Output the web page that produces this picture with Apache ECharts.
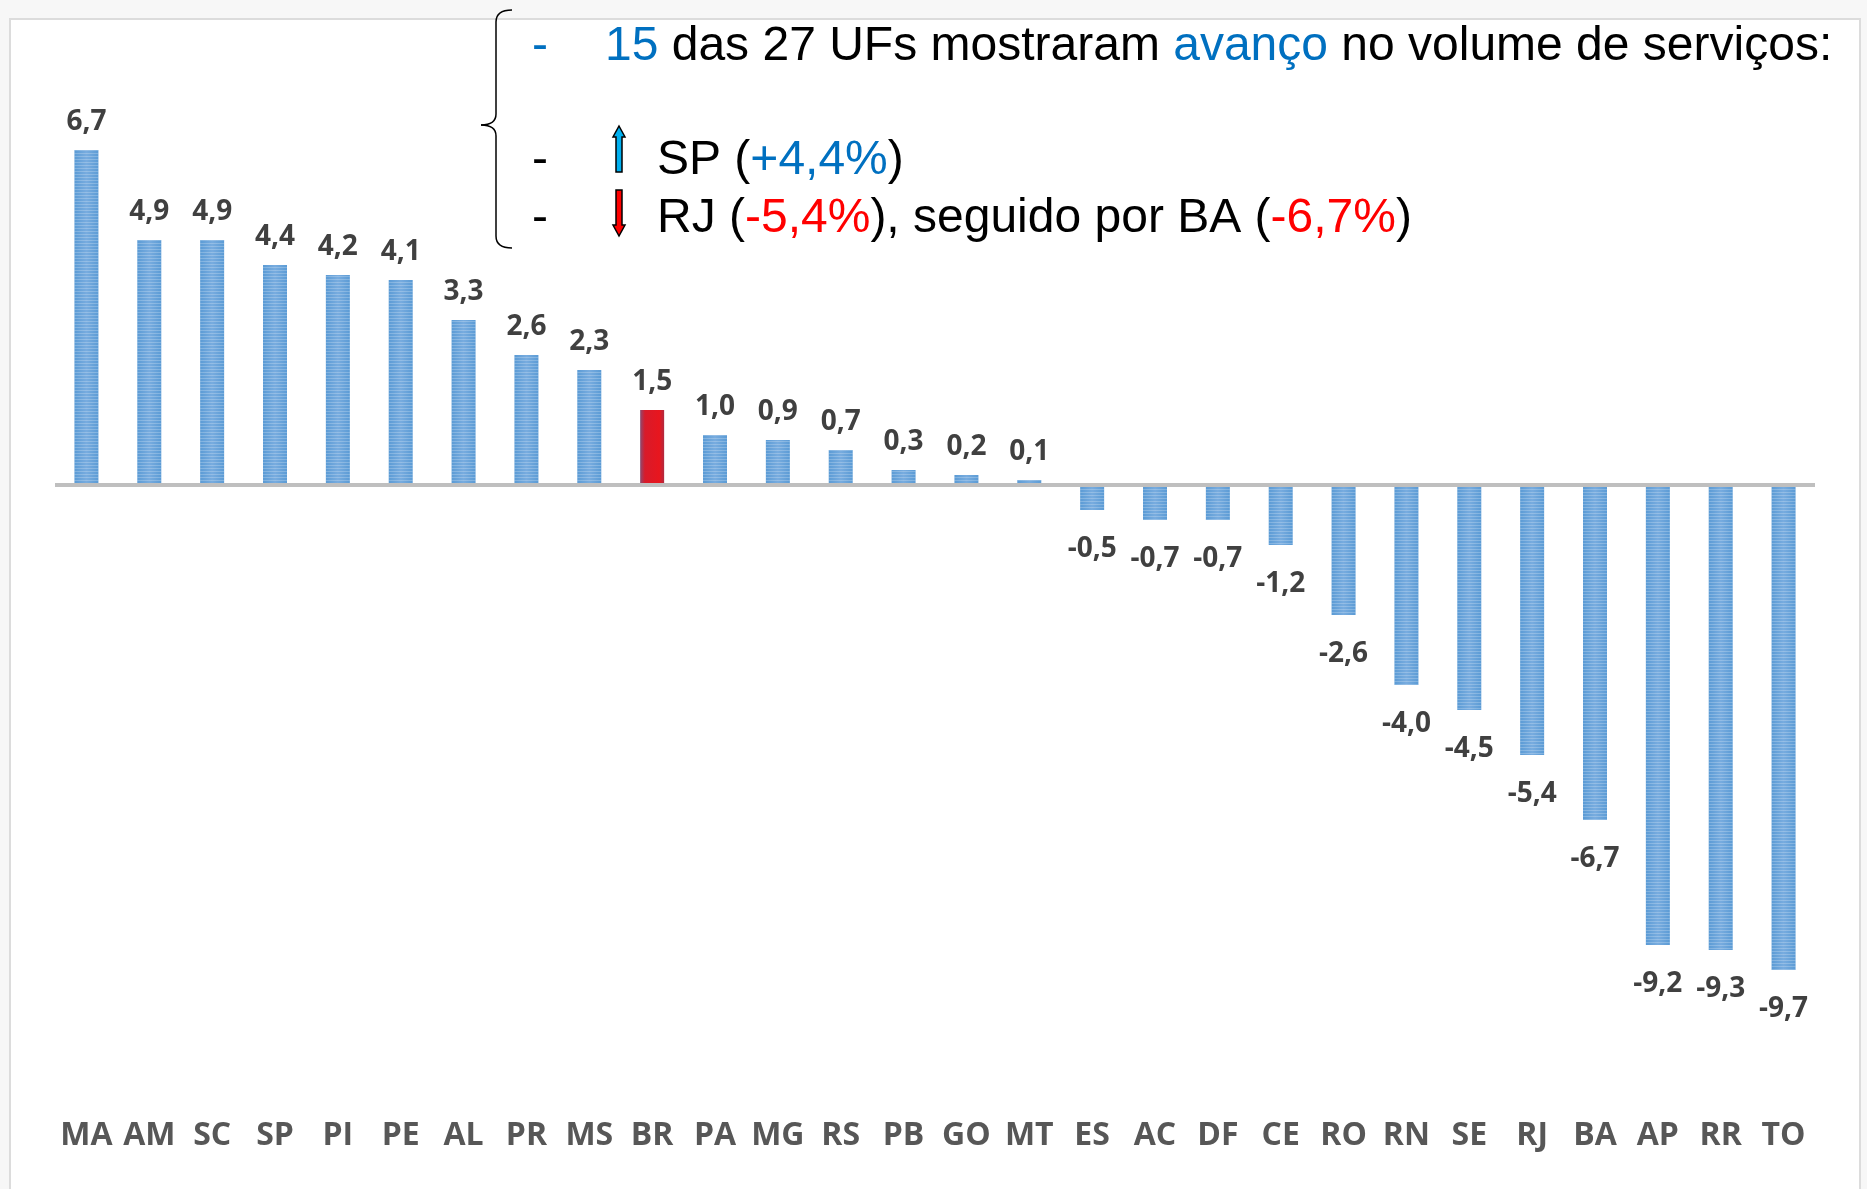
<!DOCTYPE html>
<html>
<head>
<meta charset="utf-8">
<style>
  html, body { margin: 0; padding: 0; background: #f7f7f7; }
  #chart { width: 1867px; height: 1189px; }
</style>
<script src="https://cdn.jsdelivr.net/npm/echarts@6/dist/echarts.min.js"></script>
</head>
<body>
<div id="chart"></div>
<script>
// UFs, ordenadas pela variação
var ufs = ['MA','AM','SC','SP','PI','PE','AL','PR','MS','BR','PA','MG','RS','PB','GO','MT','ES','AC','DF','CE','RO','RN','SE','RJ','BA','AP','RR','TO'];
var variacao = [6.7, 4.9, 4.9, 4.4, 4.2, 4.1, 3.3, 2.6, 2.3, 1.5, 1.0, 0.9, 0.7, 0.3, 0.2, 0.1, -0.5, -0.7, -0.7, -1.2, -2.6, -4.0, -4.5, -5.4, -6.7, -9.2, -9.3, -9.7];
var destaque = 'BR';

var chart = echarts.init(document.getElementById('chart'));

var azul = new echarts.graphic.LinearGradient(0, 0, 1, 0, [
    {offset: 0, color: '#5b9bd5'},
    {offset: 0.5, color: '#78acdf'},
    {offset: 1, color: '#5b9bd5'}
]);
var vermelho = new echarts.graphic.LinearGradient(0, 0, 1, 0, [
    {offset: 0, color: '#8a4a70'},
    {offset: 0.2, color: '#d81a2a'},
    {offset: 0.8, color: '#e8161e'},
    {offset: 1, color: '#b02a40'}
]);

function fmt(v) {
    return v.toFixed(1).replace('.', ',');
}

var barras = variacao.map(function (v, i) {
    var item = {
        value: v,
        label: {
            position: v >= 0 ? 'top' : 'bottom',
            distance: v >= 0 ? 14 : 25
        }
    };
    if (ufs[i] === destaque) {
        item.itemStyle = {color: vermelho, decal: {color: 'rgba(0,0,0,0)'}};
    }
    return item;
});

var fonte = '48px "Liberation Sans"';
var linha = {stroke: '#000', lineWidth: 1.5, fill: null};

var option = {
    backgroundColor: '#f7f7f7',
    animation: false,
    grid: {left: 55, right: 52, top: 135, bottom: 204},
    xAxis: {
        type: 'category',
        data: ufs,
        axisLine: {show: false},
        axisTick: {show: false},
        axisLabel: {
            margin: 135,
            fontFamily: 'Open Sans',
            fontWeight: 'bold',
            fontSize: 32,
            color: '#575757',
            interval: 0
        }
    },
    yAxis: {
        type: 'value',
        min: -10,
        max: 7,
        show: false,
        splitLine: {show: false}
    },
    series: [{
        type: 'bar',
        data: barras,
        barWidth: 24,
        itemStyle: {
            color: azul,
            decal: {
                symbol: 'rect',
                symbolSize: 1,
                dashArrayX: [1, 0],
                dashArrayY: [1, 2],
                rotation: 0,
                color: 'rgba(255,255,255,0.22)'
            }
        },
        label: {
            show: true,
            fontFamily: 'Open Sans',
            fontWeight: 'bold',
            fontSize: 28,
            color: '#404040',
            formatter: function (p) { return fmt(p.value); }
        },
        markLine: {
            silent: true,
            symbol: 'none',
            label: {show: false},
            lineStyle: {color: '#bfbfbf', width: 4, type: 'solid'},
            data: [{yAxis: 0}]
        }
    }],
    graphic: [
        {
            type: 'rect', z: -100, silent: true,
            shape: {x: 10, y: 19, width: 1850, height: 1200},
            style: {fill: '#ffffff', stroke: '#dcdcdc', lineWidth: 2}
        },
        // chave
        {type: 'bezierCurve', silent: true, shape: {x1: 512, y1: 10, x2: 496, y2: 22, cpx1: 496, cpy1: 10}, style: linha},
        {type: 'line', silent: true, shape: {x1: 496, y1: 22, x2: 496, y2: 114}, style: linha},
        {type: 'bezierCurve', silent: true, shape: {x1: 496, y1: 114, x2: 481, y2: 125, cpx1: 496, cpy1: 125}, style: linha},
        {type: 'bezierCurve', silent: true, shape: {x1: 481, y1: 125, x2: 496, y2: 136, cpx1: 496, cpy1: 125}, style: linha},
        {type: 'line', silent: true, shape: {x1: 496, y1: 136, x2: 496, y2: 236}, style: linha},
        {type: 'bezierCurve', silent: true, shape: {x1: 496, y1: 236, x2: 512, y2: 248, cpx1: 496, cpy1: 248}, style: linha},
        {
            type: 'text', silent: true,
            style: {x: 532, y: 47, text: '-', fill: '#0070c0', font: fonte, verticalAlign: 'middle'}
        },
        {
            type: 'text', silent: true,
            style: {
                x: 605, y: 47,
                text: '{b|15} das 27 UFs mostraram {b|avanço} no volume de serviços:',
                font: fonte, fill: '#000', verticalAlign: 'middle',
                rich: {b: {fill: '#0070c0', font: fonte}}
            }
        },
        {
            type: 'text', silent: true,
            style: {x: 532, y: 161, text: '-', fill: '#000', font: fonte, verticalAlign: 'middle'}
        },
        {
            type: 'text', silent: true,
            style: {
                x: 657, y: 161,
                text: 'SP ({b|+4,4%})',
                font: fonte, fill: '#000', verticalAlign: 'middle',
                rich: {b: {fill: '#0070c0', font: fonte}}
            }
        },
        {
            type: 'text', silent: true,
            style: {x: 532, y: 219, text: '-', fill: '#000', font: fonte, verticalAlign: 'middle'}
        },
        {
            type: 'text', silent: true,
            style: {
                x: 657, y: 219,
                text: 'RJ ({r|-5,4%}), seguido por BA ({r|-6,7%})',
                font: fonte, fill: '#000', verticalAlign: 'middle',
                rich: {r: {fill: '#ff0000', font: fonte}}
            }
        },
        // setas
        {
            type: 'polygon', silent: true,
            shape: {points: [[619,126],[625,137],[622,137],[622,172],[616,172],[616,137],[613,137]]},
            style: {fill: '#00b0f0', stroke: '#000', lineWidth: 1.5}
        },
        {
            type: 'polygon', silent: true,
            shape: {points: [[616,190],[622,190],[622,225],[625,225],[619,236],[613,225],[616,225]]},
            style: {fill: '#ff0000', stroke: '#000', lineWidth: 1.5}
        }
    ]
};

chart.setOption(option);
</script>
</body>
</html>
